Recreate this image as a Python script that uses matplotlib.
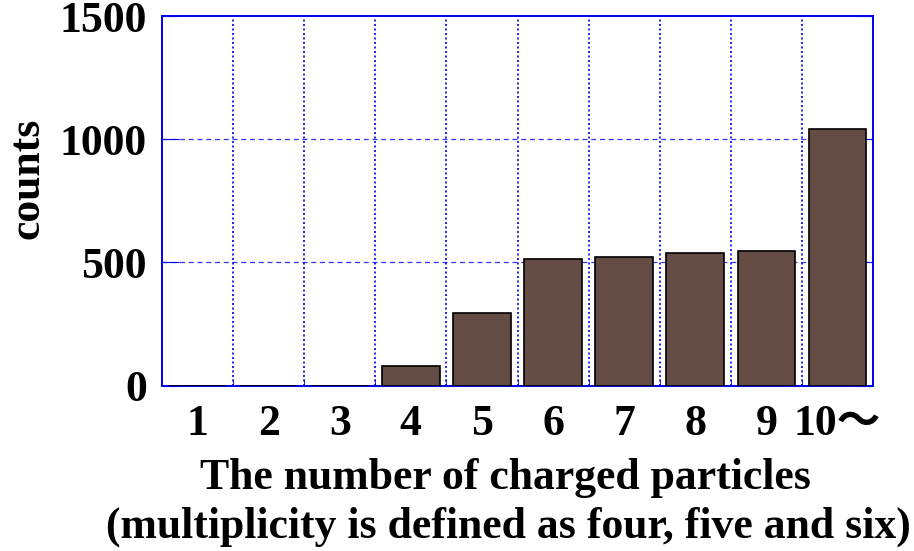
import matplotlib
matplotlib.use("Agg")
import matplotlib.pyplot as plt
import numpy as np

categories = ["1", "2", "3", "4", "5", "6", "7", "8", "9", "10\u301c"]
counts = [0, 0, 0, 81, 293, 513, 524, 540, 547, 1042]
yticks = [0, 500, 1000, 1500]

blue = "#0000ee"
bar_color = "#654d46"
FS = 31.5

fig = plt.figure(figsize=(9.14, 5.51), dpi=100)
ax = fig.add_axes([162/914, 1-385.5/551, (873-162)/914, (385.5-16.3)/551])

x = np.arange(1, len(categories) + 1)
ax.bar(x, counts, width=0.81, color=bar_color, edgecolor="black", linewidth=1.2, zorder=3)

ax.set_xlim(0.5, len(categories) + 0.5)
ax.set_ylim(0, 1500)

# grid
for b in np.arange(1.5, len(categories), 1.0):
    ax.axvline(b, color=blue, linestyle=(0, (1.2, 1.5)), linewidth=1.2, zorder=1)
for yv in [500, 1000]:
    ax.axhline(yv, color=blue, linestyle=(0, (4, 3)), linewidth=0.9, zorder=1, alpha=0.8)

for s in ax.spines.values():
    s.set_color(blue)
    s.set_linewidth(1.4)

ax.set_xticks(x)
ax.set_xticklabels(categories, fontfamily=["Liberation Serif", "Noto Sans CJK JP"],
                   fontweight="bold", fontsize=FS)
ax.set_xticks(np.arange(1.5, len(categories), 1.0), minor=True)
ax.tick_params(axis="x", which="major", length=0, pad=13)
ax.tick_params(axis="x", which="minor", direction="in", length=5, color=blue, top=False)

ax.set_yticks(yticks)
ax.set_yticklabels([str(v) for v in yticks], fontfamily="Liberation Serif",
                   fontweight="bold", fontsize=FS)
ax.tick_params(axis="y", which="major", direction="in", length=12, color=blue,
               right=True, pad=11)

fig.text(28/914, 1-178/551, "counts", rotation=90, ha="center", va="center",
         fontfamily="Liberation Serif", fontweight="bold", fontsize=FS)
fig.text(505/914, 1-478/551, "The number of charged particles", ha="center", va="center",
         fontfamily="Liberation Serif", fontweight="bold", fontsize=FS)
fig.text(508/914, 1-527/551, "(multiplicity is defined as four, five and six)", ha="center",
         va="center", fontfamily="Liberation Serif", fontweight="bold", fontsize=FS)

fig.savefig("out.png", dpi=100)
